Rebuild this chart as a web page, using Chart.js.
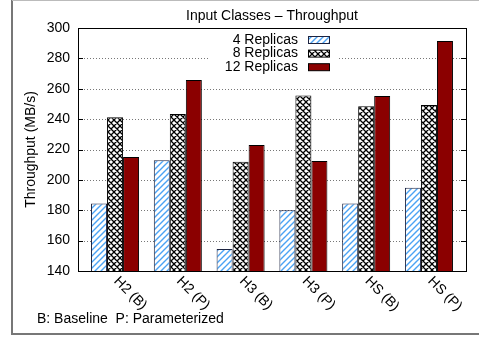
<!DOCTYPE html>
<html>
<head>
<meta charset="utf-8">
<script src="https://cdn.jsdelivr.net/npm/chart.js@4"></script>
<style>
  html, body { margin: 0; padding: 0; background: #fff; }
  #wrap { width: 479px; height: 337px; }
</style>
</head>
<body>
<div id="wrap"><canvas id="chart" width="479" height="337"></canvas></div>
<script>
const categories = ['H2 (B)', 'H2 (P)', 'H3 (B)', 'H3 (P)', 'HS (B)', 'HS (P)'];
const replicas4  = [184.5, 213, 154.5, 180, 184.5, 194.8];
const replicas8  = [241.2, 243.3, 212, 255.5, 248.5, 249.3];
const replicas12 = [215, 265.8, 223, 212.4, 255.3, 291.5];
const seriesNames = ['4 Replicas', '8 Replicas', '12 Replicas'];
const yTicks = { min: 140, max: 300, step: 20 };

const FONT = '"Liberation Sans", Arial, sans-serif';

function hatchPattern(){
  const c = document.createElement('canvas');
  c.width = 6; c.height = 6;
  const g = c.getContext('2d');
  g.fillStyle = '#fff'; g.fillRect(0, 0, 6, 6);
  g.strokeStyle = '#4aa2f4'; g.lineWidth = 1.4;
  g.beginPath();
  g.moveTo(-1, 7); g.lineTo(7, -1);
  g.moveTo(-1, 1); g.lineTo(1, -1);
  g.moveTo(5, 7); g.lineTo(7, 5);
  g.stroke();
  return g.createPattern(c, 'repeat');
}

function crossPattern(){
  const c = document.createElement('canvas');
  c.width = 6; c.height = 6;
  const g = c.getContext('2d');
  g.fillStyle = '#fff'; g.fillRect(0, 0, 6, 6);
  g.strokeStyle = '#000'; g.lineWidth = 1.3;
  g.beginPath();
  g.moveTo(-1, 7); g.lineTo(7, -1);
  g.moveTo(-1, -1); g.lineTo(7, 7);
  g.moveTo(-1, 1); g.lineTo(1, -1);
  g.moveTo(5, 7); g.lineTo(7, 5);
  g.moveTo(5, -1); g.lineTo(7, 1);
  g.moveTo(-1, 5); g.lineTo(1, 7);
  g.stroke();
  return g.createPattern(c, 'repeat');
}

const fills = [hatchPattern(), crossPattern(), '#8b0000'];
const edges = ['#1c2340', '#000', '#000'];
const values = [replicas4, replicas8, replicas12];

const legendBox = { x: 208, y: 30, w: 130, h: 45 };

const decor = {
  id: 'decor',
  beforeDatasetsDraw(chart){
    const ctx = chart.ctx;
    const a = chart.chartArea;
    const ys = chart.scales.y;
    ctx.save();
    // dotted grid lines, broken by the legend
    ctx.strokeStyle = '#777'; ctx.lineWidth = 1;
    ctx.setLineDash([1, 2]);
    ctx.beginPath();
    for (let v = yTicks.min + yTicks.step; v < yTicks.max; v += yTicks.step){
      const py = Math.round(ys.getPixelForValue(v)) + 0.5;
      ctx.moveTo(a.left, py); ctx.lineTo(a.right, py);
    }
    ctx.stroke();
    ctx.setLineDash([]);
    ctx.fillStyle = '#fff';
    ctx.fillRect(legendBox.x, legendBox.y, legendBox.w, legendBox.h);
    ctx.restore();
  },
  afterDraw(chart){
    const ctx = chart.ctx;
    const a = chart.chartArea;
    const xs = chart.scales.x, ys = chart.scales.y;
    ctx.save();

    // plot border + inward ticks
    ctx.strokeStyle = '#000'; ctx.lineWidth = 1;
    ctx.strokeRect(Math.round(a.left) + 0.5, Math.round(a.top) + 0.5,
      Math.round(a.right - a.left), Math.round(a.bottom - a.top));
    ctx.beginPath();
    for (let v = yTicks.min + yTicks.step; v < yTicks.max; v += yTicks.step){
      const py = Math.round(ys.getPixelForValue(v)) + 0.5;
      ctx.moveTo(a.left, py); ctx.lineTo(a.left + 5, py);
      ctx.moveTo(a.right - 5, py); ctx.lineTo(a.right, py);
    }
    ctx.stroke();

    // title
    ctx.fillStyle = '#000';
    ctx.font = '14px ' + FONT;
    ctx.textAlign = 'center'; ctx.textBaseline = 'middle';
    ctx.fillText('Input Classes \u2013 Throughput', (a.left + a.right) / 2, 16);

    // legend
    ctx.textAlign = 'right';
    seriesNames.forEach((name, i) => {
      const cy = 40 + i * 13.6;
      ctx.fillStyle = '#000';
      ctx.fillText(name, 298, cy);
      ctx.fillStyle = fills[i];
      ctx.fillRect(308, cy - 3.5, 21, 7);
      ctx.strokeStyle = edges[i];
      ctx.strokeRect(308.5, cy - 3.5, 21, 7);
    });

    // rotated category labels
    ctx.fillStyle = '#000';
    ctx.textAlign = 'left';
    categories.forEach((lab, i) => {
      const px = xs.getPixelForValue(i);
      ctx.save();
      ctx.translate(px + 1, a.bottom + 8);
      ctx.rotate(Math.PI / 4);
      ctx.fillText(lab, 0, 0);
      ctx.restore();
    });

    // footnote
    ctx.textAlign = 'left';
    ctx.fillText('B: Baseline  P: Parameterized', 37, 319);

    // outer frame
    ctx.strokeStyle = '#777'; ctx.lineWidth = 2;
    ctx.beginPath();
    ctx.moveTo(12, 0); ctx.lineTo(12, 334); ctx.lineTo(479, 334);
    ctx.stroke();
    ctx.strokeStyle = '#bbb'; ctx.lineWidth = 1;
    ctx.beginPath();
    ctx.moveTo(12, 0.5); ctx.lineTo(479, 0.5);
    ctx.stroke();
    ctx.restore();
  }
};

new Chart(document.getElementById('chart'), {
  type: 'bar',
  data: {
    datasets: values.map((vals, i) => ({
      label: seriesNames[i],
      data: vals.map((v, k) => ({ x: k, y: v })),
      backgroundColor: fills[i],
      borderColor: edges[i],
      borderWidth: 1,
      borderSkipped: false,
      categoryPercentage: 0.765,
      barPercentage: 1
    }))
  },
  options: {
    responsive: false,
    animation: false,
    layout: { padding: { top: 28, right: 13, bottom: 0, left: 0 } },
    plugins: { legend: { display: false }, tooltip: { enabled: false }, title: { display: false } },
    scales: {
      x: {
        type: 'linear',
        min: -0.59, max: 5.59,
        offset: false,
        grid: { display: false, drawTicks: false },
        border: { display: false },
        ticks: { display: false, stepSize: 1 },
        afterFit: s => { s.height = 66; }
      },
      y: {
        min: yTicks.min, max: yTicks.max,
        ticks: { stepSize: yTicks.step, color: '#000', padding: 8, font: { family: FONT, size: 14 } },
        grid: { display: false, drawTicks: false },
        border: { display: false },
        title: { display: true, text: 'Throughput (MB/s)', color: '#000', font: { family: FONT, size: 14 }, padding: { top: 23, bottom: 0 } },
        afterFit: s => { s.width = 78; }
      }
    }
  },
  plugins: [decor]
});
</script>
</body>
</html>
